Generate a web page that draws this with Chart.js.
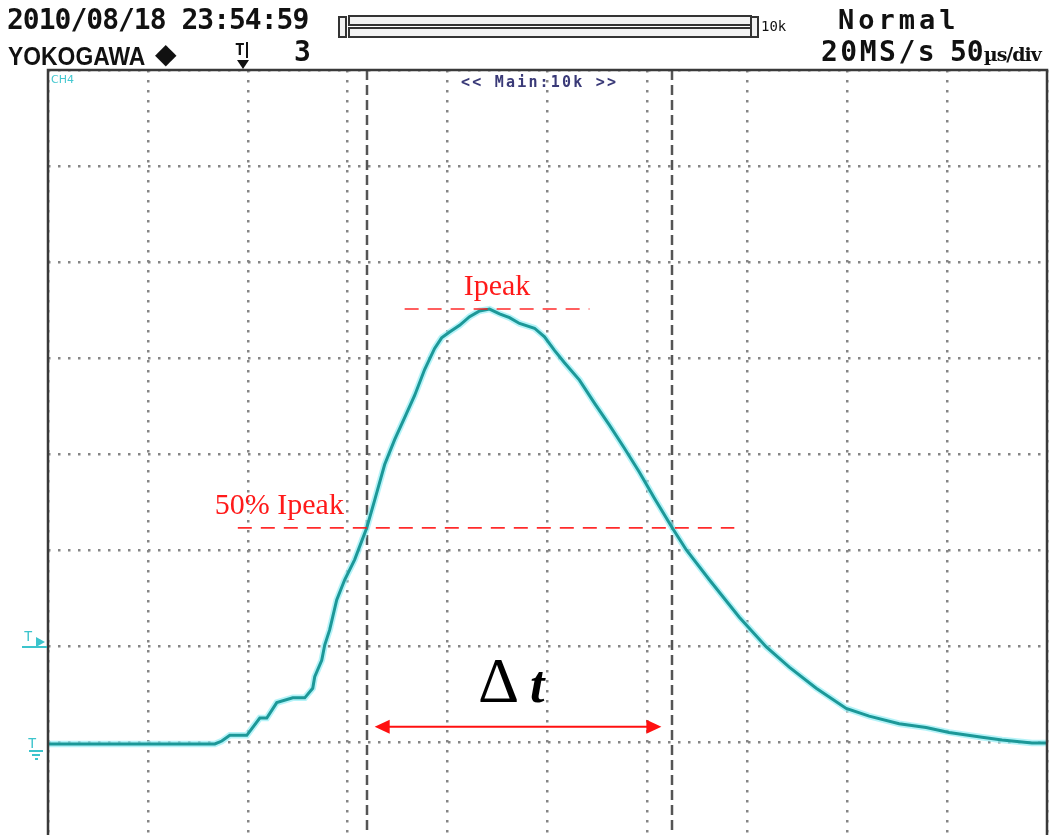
<!DOCTYPE html>
<html>
<head>
<meta charset="utf-8">
<script src="https://cdn.jsdelivr.net/npm/chart.js@4/dist/chart.umd.min.js"></script>
<style>
  html, body { margin:0; padding:0; background:#fff; width:1050px; height:835px; overflow:hidden; }
  #wrap { position:relative; width:1050px; height:835px; overflow:hidden; }
  canvas { position:absolute; left:0; top:0; }
  .t { position:absolute; white-space:nowrap; color:#111; line-height:1; }
  .mono { font-family:"DejaVu Sans Mono", "Liberation Mono", monospace; }
</style>
</head>
<body>
<div id="wrap">
  <canvas id="c" width="1050" height="845"></canvas>

  <div class="t mono" style="left:7px; top:6px; font-size:28px; font-weight:600; letter-spacing:-1px;">2010/08/18 23:54:59</div>
  <div class="t" style="left:8px; top:43px; font-family:'Liberation Sans', Arial, sans-serif; font-weight:bold; font-size:26px; transform:scaleX(0.88); transform-origin:0 0;">YOKOGAWA</div>
  <div class="t" style="left:155px; top:40px; font-family:'DejaVu Sans', sans-serif; font-size:28px;">◆</div>
  <div class="t mono" style="left:235px; top:42px; font-size:16px; font-weight:bold;">T</div>
  <div class="t" style="left:246px; top:42px; width:2px; height:16px; background:#111;"></div>
  <div class="t" style="left:237px; top:60px; width:0; height:0; border-left:6px solid transparent; border-right:6px solid transparent; border-top:9px solid #111;"></div>
  <div class="t mono" style="left:294px; top:38px; font-size:28px; font-weight:600;">3</div>

  <div class="t" style="left:338px; top:16px; width:5px; height:18px; border:2px solid #333; background:#f2f2f2;"></div>
  <div class="t" style="left:348px; top:15px; width:400px; height:7px; border:2px solid #333; background:#f2f2f2;"></div>
  <div class="t" style="left:348px; top:27px; width:400px; height:7px; border:2px solid #333; background:#f2f2f2;"></div>
  <div class="t" style="left:750px; top:16px; width:5px; height:18px; border:2px solid #333; background:#f2f2f2;"></div>
  <div class="t mono" style="left:761px; top:19px; font-size:14px;">10k</div>

  <div class="t mono" style="left:838px; top:6px; font-size:27px; font-weight:600; letter-spacing:4px;">Normal</div>
  <div class="t mono" style="left:821px; top:38px; font-size:28px; font-weight:600; letter-spacing:2.5px;">20MS/s</div>
  <div class="t mono" style="left:950px; top:38px; font-size:28px; font-weight:600;">50<span style="font-size:19px; font-family:'DejaVu Serif', serif; font-weight:bold; letter-spacing:-1px;">µs/div</span></div>

  <div class="t" style="left:51px; top:74px; font-family:'DejaVu Sans', sans-serif; font-size:11px; color:#44c8d0;">CH4</div>
  <div class="t mono" style="left:461px; top:75px; font-size:15px; font-weight:600; letter-spacing:2.2px; color:#3a3a78;">&lt;&lt; Main:10k &gt;&gt;</div>

  <div class="t mono" style="left:24px; top:629px; font-size:14px; color:#3cc4cc;">T</div>
  <div class="t" style="left:36px; top:637px; width:0; height:0; border-top:5px solid transparent; border-bottom:5px solid transparent; border-left:9px solid #3cc4cc;"></div>
  <div class="t" style="left:22px; top:646px; width:25px; height:2px; background:#3cc4cc;"></div>
  <div class="t mono" style="left:28px; top:736px; font-size:14px; color:#3cc4cc;">T</div>
  <div class="t" style="left:29px; top:750px; width:14px; height:2px; background:#3cc4cc;"></div>
  <div class="t" style="left:32px; top:754px; width:8px; height:2px; background:#3cc4cc;"></div>
  <div class="t" style="left:35px; top:758px; width:3px; height:2px; background:#3cc4cc;"></div>
</div>

<script>
// ---- data (time in µs, CH4 level in divisions) ----
const timeUs = [0, 83.5, 87, 91, 99.5, 106, 109.5, 114.5, 122.5, 128.5, 132.5, 133.5, 137, 138.5, 141, 144.5,
  148.5, 153.5, 159.5, 163.5, 168.5, 173.5, 178.5, 183.5, 188.5, 193.5, 197, 201, 206, 211, 216, 221,
  226, 231, 236, 243.5, 248.5, 253.5, 258.5, 266, 273.5, 281, 288.5, 296, 303.5, 312.5, 319.5, 331,
  346, 359.5, 371, 384.5, 399.5, 411, 426, 439.5, 451, 467.5, 477.5, 492.5, 500];
const ch4Div = [-3.02, -3.02, -2.99, -2.93, -2.93, -2.75, -2.75, -2.59, -2.54, -2.54, -2.44, -2.32, -2.15, -1.99, -1.83, -1.52,
  -1.31, -1.10, -0.77, -0.48, -0.11, 0.15, 0.38, 0.61, 0.88, 1.10, 1.21, 1.27, 1.34, 1.43, 1.49, 1.51,
  1.46, 1.42, 1.36, 1.31, 1.22, 1.08, 0.95, 0.77, 0.53, 0.30, 0.06, -0.19, -0.46, -0.77, -1.00, -1.31,
  -1.70, -2.01, -2.22, -2.44, -2.65, -2.73, -2.81, -2.85, -2.90, -2.95, -2.98, -3.01, -3.01];

const cursorTimes = [159.5, 312.5];          // vertical cursors
const ipeakLevel = 1.51;                      // Ipeak marker level
const ipeakSpan = [178.5, 271];               // extent of Ipeak dashed line
const halfLevel = -0.77;                      // 50% Ipeak level
const halfSpan = [95, 343.5];                 // extent of 50% dashed line
const arrowSpan = [163.5, 307];               // Δt arrow extent
const arrowLevel = -2.84;                     // Δt arrow level
const labels = { ipeak: "Ipeak", half: "50% Ipeak", delta: "Δ", t: "t" };

const xTicks = { min: 0, max: 500, step: 50 };
const yTicks = { min: -4, max: 4, step: 1 };

const points = timeUs.map((t, i) => ({ x: t, y: ch4Div[i] }));

const overlay = {
  id: 'overlay',
  beforeDatasetsDraw(chart) {
    const { ctx, chartArea: a, scales: { x } } = chart;
    ctx.save();
    ctx.strokeStyle = '#555';
    ctx.lineWidth = 2.5;
    ctx.setLineDash([10, 5]);
    cursorTimes.forEach(t => {
      const px = Math.round(x.getPixelForValue(t));
      ctx.beginPath(); ctx.moveTo(px, a.top); ctx.lineTo(px, a.bottom + 10); ctx.stroke();
    });
    ctx.restore();
  },
  afterDatasetsDraw(chart) {
    const { ctx, chartArea: a, scales: { x, y } } = chart;
    ctx.save();
    // frame
    ctx.strokeStyle = '#3a3a3a';
    ctx.lineWidth = 2.5;
    ctx.beginPath();
    ctx.moveTo(a.left, a.bottom + 10); ctx.lineTo(a.left, a.top); ctx.lineTo(a.right, a.top); ctx.lineTo(a.right, a.bottom + 10);
    ctx.stroke();

    // red dashed level lines
    ctx.strokeStyle = 'rgba(255,20,20,0.9)';
    ctx.lineWidth = 1.6;
    ctx.setLineDash([14, 9]);
    let yy = y.getPixelForValue(ipeakLevel);
    ctx.beginPath(); ctx.moveTo(x.getPixelForValue(ipeakSpan[0]), yy); ctx.lineTo(x.getPixelForValue(ipeakSpan[1]), yy); ctx.stroke();
    yy = y.getPixelForValue(halfLevel);
    ctx.beginPath(); ctx.moveTo(x.getPixelForValue(halfSpan[0]), yy); ctx.lineTo(x.getPixelForValue(halfSpan[1]), yy); ctx.stroke();
    ctx.setLineDash([]);

    // Δt arrow
    const ax0 = x.getPixelForValue(arrowSpan[0]), ax1 = x.getPixelForValue(arrowSpan[1]);
    const ay = y.getPixelForValue(arrowLevel);
    ctx.strokeStyle = '#ff1010'; ctx.fillStyle = '#ff1010'; ctx.lineWidth = 2;
    ctx.beginPath(); ctx.moveTo(ax0 + 10, ay); ctx.lineTo(ax1 - 10, ay); ctx.stroke();
    ctx.beginPath(); ctx.moveTo(ax0, ay); ctx.lineTo(ax0 + 15, ay - 7); ctx.lineTo(ax0 + 15, ay + 7); ctx.closePath(); ctx.fill();
    ctx.beginPath(); ctx.moveTo(ax1, ay); ctx.lineTo(ax1 - 15, ay - 7); ctx.lineTo(ax1 - 15, ay + 7); ctx.closePath(); ctx.fill();

    // labels
    ctx.fillStyle = '#ff1a1a';
    ctx.font = '30px "Liberation Serif", "Times New Roman", serif';
    ctx.textBaseline = 'alphabetic';
    ctx.textAlign = 'center';
    ctx.fillText(labels.ipeak, (x.getPixelForValue(ipeakSpan[0]) + x.getPixelForValue(ipeakSpan[1])) / 2, y.getPixelForValue(ipeakLevel) - 14);
    ctx.textAlign = 'left';
    ctx.fillText(labels.half, x.getPixelForValue(halfSpan[0]) - 23, y.getPixelForValue(halfLevel) - 14);

    ctx.fillStyle = '#000';
    ctx.font = '64px "Liberation Serif", "Times New Roman", serif';
    ctx.textAlign = 'left';
    const mid = (ax0 + ax1) / 2;
    ctx.fillText(labels.delta, mid - 40, ay - 25);
    ctx.font = 'italic bold 52px "Liberation Serif", "Times New Roman", serif';
    ctx.fillText(labels.t, mid + 12, ay - 25);
    ctx.restore();
  }
};

new Chart(document.getElementById('c'), {
  type: 'line',
  data: {
    datasets: [
      { data: points, borderColor: '#1c9898', borderWidth: 3, pointRadius: 0, tension: 0, fill: false, order: 0 },
      { data: points, borderColor: 'rgba(150,238,245,0.7)', borderWidth: 6.5, pointRadius: 0, tension: 0, fill: false, order: 1 }
    ]
  },
  options: {
    responsive: false,
    animation: false,
    devicePixelRatio: 1,
    layout: { padding: { left: 48, right: 3, top: 70, bottom: 7 } },
    plugins: { legend: { display: false }, tooltip: { enabled: false } },
    scales: {
      x: {
        type: 'linear', min: xTicks.min, max: xTicks.max,
        ticks: { display: false, stepSize: xTicks.step },
        grid: { color: '#858585', lineWidth: 2.5, drawTicks: false },
        border: { display: false, dash: [2.5, 7.5] }
      },
      y: {
        type: 'linear', min: yTicks.min, max: yTicks.max,
        ticks: { display: false, stepSize: yTicks.step },
        grid: { color: '#858585', lineWidth: 2.5, drawTicks: false },
        border: { display: false, dash: [2.5, 7.5] }
      }
    }
  },
  plugins: [overlay]
});
</script>
</body>
</html>
